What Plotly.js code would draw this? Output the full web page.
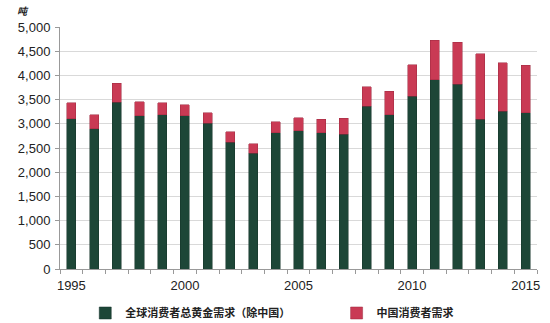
<!DOCTYPE html>
<html>
<head>
<meta charset="utf-8">
<script src="https://cdn.plot.ly/plotly-3.0.1.min.js"></script>
<style>html,body{margin:0;padding:0;background:#fff;}#chart{width:550px;height:323px;}</style>
</head>
<body>
<div id="chart"></div>
<script>
const years = [1995,1996,1997,1998,1999,2000,2001,2002,2003,2004,2005,2006,2007,2008,2009,2010,2011,2012,2013,2014,2015];
const globalExChina = [3100,2895,3450,3165,3190,3170,3010,2620,2390,2815,2860,2820,2780,3360,3185,3570,3915,3820,3095,3260,3225];
const chinaDemand = [335,295,385,290,245,220,220,220,195,230,260,275,335,410,490,645,815,860,1355,1005,980];
const xTickVals = [1995,2000,2005,2010,2015];
const xTickText = ['1995','2000','2005','2010','2015'];
const yTickVals = [0,500,1000,1500,2000,2500,3000,3500,4000,4500,5000];
const seriesNames = ['全球消费者总黄金需求（除中国）','中国消费者需求'];

const boundaries = years.map(y => y - 0.5).concat([years[years.length-1] + 0.5]);

const traces = [
  {type:'bar', x:years, y:globalExChina, name:seriesNames[0], legend:'legend', showlegend:true,
   marker:{color:'#1d4637', line:{color:'#15332a', width:0.5}}},
  {type:'bar', x:years, y:chinaDemand, name:seriesNames[1], legend:'legend2', showlegend:true,
   marker:{color:'#c93a54', line:{color:'#9e2a3f', width:0.5}}}
];

const legendFont = {family:'"Noto Sans CJK SC", sans-serif', size:11, color:'#222', weight:'bold'};

const layout = {
  width:550, height:323,
  showlegend:true,
  barmode:'stack', bargap:0.6,
  margin:{l:60, r:13, t:27, b:54},
  paper_bgcolor:'#fff', plot_bgcolor:'#fff',
  font:{family:'"Liberation Sans", Arial, sans-serif', color:'#222'},
  xaxis:{
    range:[1994.5, 2015.5], tickmode:'array', tickvals:xTickVals, ticktext:xTickText,
    ticks:'', showgrid:false, showline:true, linecolor:'#999', linewidth:1,
    tickfont:{size:13, color:'#222'}, zeroline:false, ticklabelstandoff:4,
    minor:{tickmode:'array', tickvals:boundaries, ticks:'outside', ticklen:4, tickcolor:'#999', showgrid:false}
  },
  yaxis:{
    range:[0,5000], tickmode:'array', tickvals:yTickVals, tickformat:',d',
    showgrid:true, gridcolor:'#d9d9d9', gridwidth:1,
    showline:true, linecolor:'#999', linewidth:1, ticks:'outside', ticklen:4, tickcolor:'#999',
    tickfont:{size:13, color:'#222'}, zeroline:false, ticklabelstandoff:2
  },
  legend:{visible:true, orientation:'h', xref:'container', yref:'container', x:0.155, xanchor:'left', y:0.031, yanchor:'middle',
    font:legendFont, bgcolor:'rgba(0,0,0,0)'},
  legend2:{visible:true, orientation:'h', xref:'container', yref:'container', x:0.612, xanchor:'left', y:0.031, yanchor:'middle',
    font:legendFont, bgcolor:'rgba(0,0,0,0)'},
  annotations:[{text:'<i><b>吨</b></i>', xref:'paper', yref:'paper', x:-0.095, y:1.07,
    xanchor:'left', yanchor:'middle', showarrow:false,
    font:{family:'"Noto Sans CJK SC", sans-serif', size:10, color:'#222'}}]
};

Plotly.newPlot('chart', traces, layout, {displayModeBar:false, staticPlot:true});
</script>
</body>
</html>
